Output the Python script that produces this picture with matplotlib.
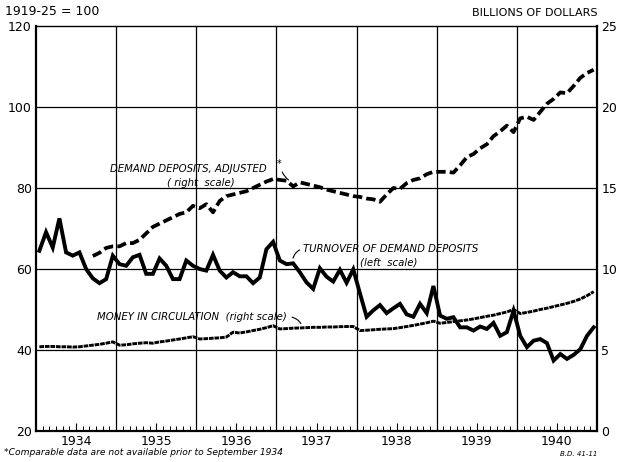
import numpy as np
import matplotlib
matplotlib.use("Agg")
import matplotlib.pyplot as plt

# monthly data, Jan 1934 - Dec 1940
turnover = [64.5, 69.1, 65.3, 72.5, 64.1, 63.3, 64.1, 60.0, 57.7, 56.5, 57.5, 63.3,
            61.2, 60.8, 62.9, 63.5, 58.8, 58.8, 62.6, 60.8, 57.5, 57.5, 62.1, 60.8,
            60.0, 59.6, 63.5, 59.6, 57.9, 59.2, 58.2, 58.2, 56.5, 57.9, 64.9, 66.7,
            62.1, 61.2, 61.4, 59.2, 56.7, 55.1, 60.2, 58.1, 56.9, 59.8, 56.6, 59.9,
            54.0, 48.2, 49.8, 51.1, 49.1, 50.3, 51.4, 48.8, 48.2, 51.4, 49.1, 55.8,
            48.5, 47.7, 48.1, 45.6, 45.6, 44.8, 45.8, 45.2, 46.7, 43.5, 44.4, 49.7,
            43.5, 40.7, 42.3, 42.7, 41.7, 37.4, 39.0, 37.8, 38.8, 40.2, 43.5, 45.6]

# demand deposits adjusted, billions, from Sept 1934
deposits = [10.8, 11.0, 11.3, 11.4,
            11.4, 11.6, 11.6, 11.8, 12.2, 12.6, 12.8, 13.0, 13.2, 13.4, 13.5, 13.9,
            13.75, 14.0, 13.5, 14.2, 14.5, 14.6, 14.7, 14.8, 15.0, 15.2, 15.4, 15.55,
            15.5, 15.45, 15.1, 15.35, 15.25, 15.15, 15.05, 14.9, 14.8, 14.7, 14.6, 14.5,
            14.45, 14.35, 14.3, 14.15, 14.6, 15.0, 14.95, 15.3, 15.5, 15.6, 15.85, 16.0,
            16.0, 16.0, 15.95, 16.4, 16.9, 17.1, 17.45, 17.7, 18.2, 18.5, 18.85, 18.45,
            19.3, 19.4, 19.2, 19.7, 20.2, 20.5, 20.9, 20.85, 21.3, 21.8, 22.1, 22.3]

money = [5.2, 5.22, 5.22, 5.2, 5.2, 5.18, 5.2, 5.25, 5.3, 5.35, 5.42, 5.5,
         5.3, 5.32, 5.38, 5.42, 5.45, 5.42, 5.5, 5.55, 5.62, 5.68, 5.75, 5.82,
         5.68, 5.7, 5.73, 5.75, 5.8, 6.1, 6.05, 6.12, 6.2, 6.28, 6.38, 6.5,
         6.3, 6.32, 6.35, 6.36, 6.38, 6.4, 6.4, 6.42, 6.42, 6.44, 6.45, 6.45,
         6.2, 6.22, 6.25, 6.28, 6.3, 6.32, 6.38, 6.45, 6.52, 6.6, 6.68, 6.78,
         6.65, 6.7, 6.75, 6.8, 6.85, 6.92, 7.0, 7.08, 7.15, 7.25, 7.35, 7.5,
         7.25, 7.32, 7.4, 7.5, 7.58, 7.68, 7.78, 7.88, 8.0, 8.15, 8.35, 8.6]

years = [1934, 1935, 1936, 1937, 1938, 1939, 1940]

t = 1934 + (np.arange(len(turnover)) + 0.5) / 12
t_dep = t[len(turnover) - len(deposits):]

fig = plt.figure(figsize=(6.19, 4.62), dpi=100)
ax = fig.add_axes([0.0582, 0.0671, 0.9063, 0.8766])
ax2 = ax.twinx()

ax.plot(t, turnover, color='black', lw=2.8, solid_joinstyle='miter')
ax2.plot(t_dep, deposits, color='black', lw=2.7, dashes=(2.5, 1.1))
ax2.plot(t, money, color='black', lw=2.1, dashes=(1.6, 0.3))

ax.set_xlim(1934, 1941)
ax.set_ylim(20, 120)
ax2.set_ylim(0, 25)

ax.set_yticks([20, 40, 60, 80, 100, 120])
ax2.set_yticks([0, 5, 10, 15, 20, 25])
ax.tick_params(axis='y', length=0, labelsize=9, pad=3)
ax2.tick_params(axis='y', length=0, labelsize=9, pad=3)

# year boundaries as grid, labels at mid-year
for y in years[1:]:
    ax.axvline(y, color='black', lw=0.9)
for v in [40, 60, 80, 100]:
    ax.axhline(v, color='black', lw=0.9)

ax.set_xticks([y + 0.5 for y in years])
ax.set_xticklabels([str(y) for y in years], fontsize=9)
ax.tick_params(axis='x', direction='in', length=6, width=0.8, pad=3)
ax.set_xticks(1934 + np.arange(1, 84) / 12, minor=True)
ax.tick_params(axis='x', which='minor', direction='in', length=3.5, width=0.7)

for sp in ['left', 'right', 'bottom']:
    ax.spines[sp].set_linewidth(1.6)
ax.spines['top'].set_linewidth(1.0)
for sp in ax2.spines.values():
    sp.set_visible(False)

fig.text(0.008, 0.962, '1919-25 = 100', fontsize=9, ha='left', va='bottom')
fig.text(0.965, 0.962, 'BILLIONS OF DOLLARS', fontsize=8, ha='right', va='bottom')

lab = dict(fontsize=7.3, style='italic', ha='center', va='center')
ax.text(1935.9, 84.6, 'DEMAND DEPOSITS, ADJUSTED', **lab)
ax.text(1936.06, 81.3, '( right  scale)', **lab)
ax.text(1937.03, 86.0, '*', fontsize=7, ha='center', va='center')
ax.annotate('', xy=(1937.18, 81.6), xytext=(1937.06, 84.6),
            arrowprops=dict(arrowstyle='-', lw=0.8, connectionstyle='arc3,rad=0.2'))

ax.text(1938.42, 65.0, 'TURNOVER OF DEMAND DEPOSITS', **lab)
ax.text(1938.4, 61.6, '(left  scale)', **lab)
ax.annotate('', xy=(1937.2, 62.0), xytext=(1937.32, 65.0),
            arrowprops=dict(arrowstyle='-', lw=0.8, connectionstyle='arc3,rad=0.3'))

ax.text(1935.95, 48.2, 'MONEY IN CIRCULATION  (right scale)', **lab)
ax.annotate('', xy=(1937.32, 45.9), xytext=(1937.16, 48.2),
            arrowprops=dict(arrowstyle='-', lw=0.8, connectionstyle='arc3,rad=-0.3'))

fig.text(0.006, 0.01, '*Comparable data are not available prior to September 1934',
         fontsize=6.6, style='italic', ha='left', va='bottom')
fig.text(0.965, 0.01, 'B.D. 41-11', fontsize=5, style='italic', ha='right', va='bottom')

fig.savefig('out.png', dpi=100)
